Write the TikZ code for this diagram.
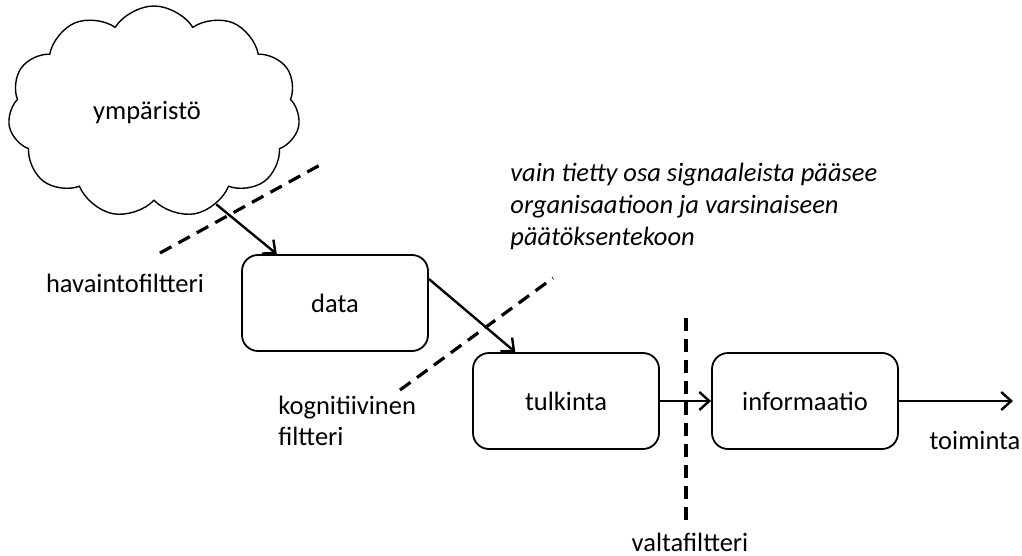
\documentclass[tikz,border=0pt]{standalone}
\usepackage{fontspec}
\setmainfont{Carlito}
\usetikzlibrary{shapes.symbols,arrows.meta,calc}

\begin{document}
\begin{tikzpicture}[
        x=0.5pt, y=-0.5pt,
        font=\fontsize{13.25}{15.5}\selectfont,
        box/.style={draw, line width=0.9pt, rounded corners=8pt,
          minimum width=93pt, minimum height=48pt},
        flow/.style={line width=1.2pt,
          -{Straight Barb[length=5pt,width=9pt,line width=1.2pt]}},
        filt/.style={line width=1.6pt, dash pattern=on 6.5pt off 4pt},
        lbl/.style={align=left, inner sep=0pt}
      ]
        % rajat
        \useasboundingbox (0,0) rectangle (1022,556);
        % ympäristö
        \node[cloud, draw, line width=0.7pt, cloud puffs=11, cloud puff arc=115,
          aspect=1.4, minimum width=146pt, minimum height=106pt]
          (ymp) at (154,112) {};
        \node (ymplbl) at (147,113) {ympäristö};
        % laatikot
        \node[box] (data) at (335,303) {data};
        \node[box] (tulk) at (566,401) {tulkinta};
        \node[box] (info) at (805,401) {informaatio};
        % nuolet
        \coordinate (toim) at (1013,401);
        \draw[flow] (ymp.-56) -- ($(data.north west)!0.19!(data.north east)$);
        \draw[flow] ($(data.east)+(0,-24)$) -- ($(tulk.north west)!0.23!(tulk.north east)$);
        \draw[flow] (tulk) -- (info);
        \draw[flow] (info) -- (toim);
        % suodattimet
        \coordinate (h1) at (160,253);
        \coordinate (h2) at (320,165);
        \coordinate (k1) at (400,390);
        \coordinate (k2) at (553,278);
        \coordinate (v1) at (686,318);
        \coordinate (v2) at (686,520);
        \draw[filt] (h1) -- (h2);
        \draw[filt] (k1) -- (k2);
        \draw[filt] (v1) -- (v2);
        % tekstit
        \node[lbl] (havf) at (125,283) {havaintofiltteri};
        \node[lbl, anchor=west] (kogf) at (278,421) {kognitiivinen\\filtteri};
        \node[lbl] (valf) at (690,542) {valtafiltteri};
        \node[lbl] (toiml) at (975,440) {toiminta};
        \node[lbl, anchor=north west, font=\fontsize{13.25}{15.8}\selectfont\itshape]
          (huom) at (510,163) {vain tietty osa signaaleista pääsee\\organisaatioon ja varsinaiseen\\päätöksentekoon};
      \end{tikzpicture}
\end{document}
